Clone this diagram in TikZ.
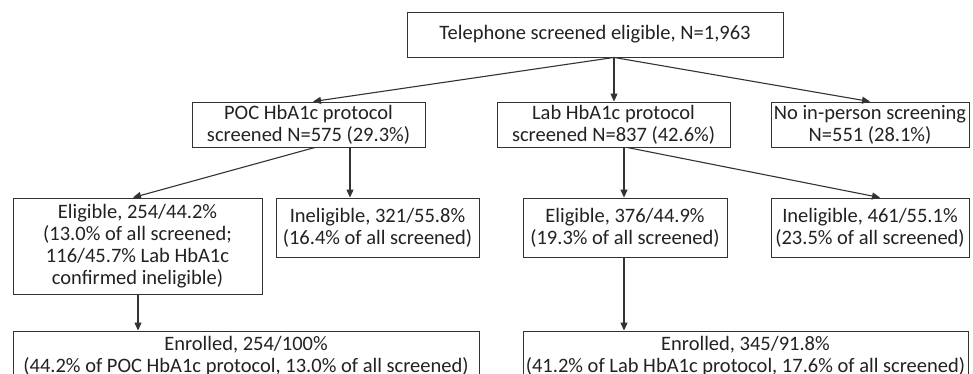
\documentclass[tikz,border=0pt]{standalone}
\usepackage{fontspec}
\setmainfont{Carlito}
\usetikzlibrary{arrows.meta,calc}
\definecolor{ink}{HTML}{222222}
\definecolor{edge}{HTML}{333333}
\tikzset{
  box/.style={draw=edge, line width=0.9pt, inner sep=0pt, align=center, text=ink,
    font=\fontsize{20.5}{21.8}\selectfont},
  arr/.style={draw=edge, line width=1.1pt, -{Triangle[length=8pt,width=7pt]}},
}
\begin{document}
\begin{tikzpicture}[x=1pt,y=-1pt]
\clip (0,0) rectangle (973,374);
\fill[white] (0,0) rectangle (973,374);
\node[box, minimum width=376pt, minimum height=45pt] (top) at (595,34.5) {Telephone screened eligible, N=1,963};
\node[box, minimum width=233pt, minimum height=45pt] (poc) at (308.5,124.5) {POC HbA1c protocol\\screened N=575 (29.3\%)};
\node[box, minimum width=233pt, minimum height=45pt] (lab) at (613.5,124.5) {Lab HbA1c protocol\\screened N=837 (42.6\%)};
\node[box, minimum width=198pt, minimum height=45pt] (noin) at (870,124.5) {No in-person screening\\N=551 (28.1\%)};
\node[box, minimum width=249pt, minimum height=96pt] (eligL) at (137.5,246) {Eligible, 254/44.2\%\\(13.0\% of all screened;\\116/45.7\% Lab HbA1c\\confirmed ineligible)};
\node[box, minimum width=203pt, minimum height=59pt] (inelL) at (377.5,227.5) {Ineligible, 321/55.8\%\\(16.4\% of all screened)};
\node[box, minimum width=204pt, minimum height=59pt] (eligR) at (625,227.5) {Eligible, 376/44.9\%\\(19.3\% of all screened)};
\node[box, minimum width=198pt, minimum height=59pt] (inelR) at (870,227.5) {Ineligible, 461/55.1\%\\(23.5\% of all screened)};
\node[box, minimum width=466pt, minimum height=50pt] (enrL) at (246,356) {Enrolled, 254/100\%\\(44.2\% of POC HbA1c protocol, 13.0\% of all screened)};
\node[box, minimum width=445pt, minimum height=50pt] (enrR) at (745.5,356) {Enrolled, 345/91.8\%\\(41.2\% of Lab HbA1c protocol, 17.6\% of all screened)};
\coordinate (topout) at ($(top.south)+(19,0)$);
\coordinate (pocA) at ($(poc.south)+(6.5,0)$);
\coordinate (pocB) at ($(poc.south)+(41.5,0)$);
\coordinate (labA) at ($(lab.south)+(10.5,0)$);
\coordinate (labB) at ($(lab.south)+(13.5,0)$);
\coordinate (eligLout) at ($(eligL.south)+(0.5,0)$);
\coordinate (eligRout) at (labA |- eligR.south);
\draw[arr] (topout) -- ($(poc.north)+(4.5,0)$);
\draw[arr] (topout) -- (topout |- lab.north);
\draw[arr] (topout) -- (noin.north);
\draw[arr] (pocA) -- ($(eligL.north)+(-4.5,0)$);
\draw[arr] (pocB) -- (pocB |- inelL.north);
\draw[arr] (labA) -- (labA |- eligR.north);
\draw[arr] (labB) -- ($(inelR.north)+(10,0)$);
\draw[arr] (eligLout) -- (eligLout |- enrL.north);
\draw[arr] (eligRout) -- (eligRout |- enrR.north);
\end{tikzpicture}
\end{document}
